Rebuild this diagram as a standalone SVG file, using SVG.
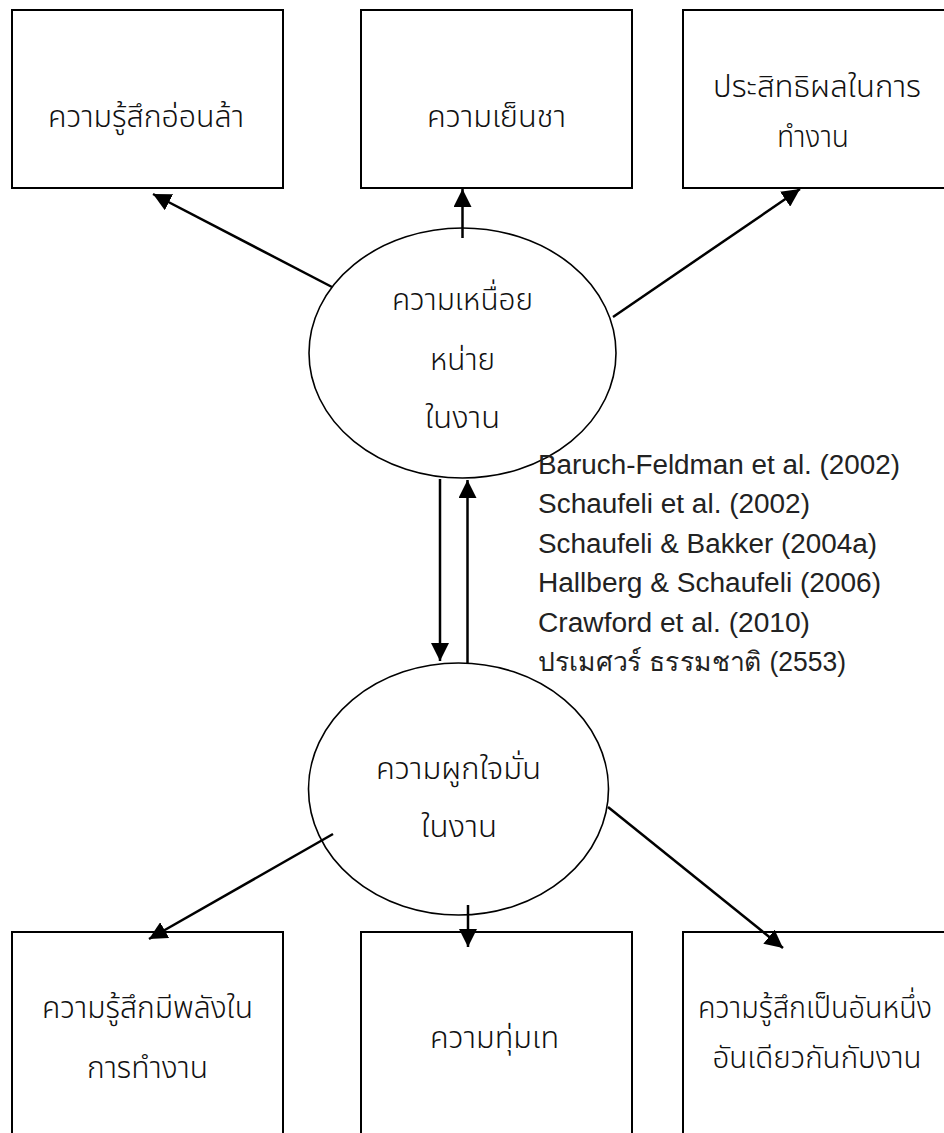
<svg xmlns="http://www.w3.org/2000/svg" width="944" height="1133" viewBox="0 0 944 1133">
<style>
.box{fill:#fff;stroke:#000;stroke-width:2}
.ell{fill:#fff;stroke:#000;stroke-width:1.6}
.con{stroke:#000;stroke-width:2.5;fill:none}
.th{font-family:"Noto Sans Thai","Noto Sans","DejaVu Sans",sans-serif;font-size:31px;font-weight:300;fill:#111}
.ref{font-family:"Liberation Sans",Arial,sans-serif;font-size:27px;fill:#222}
</style>
<defs>
<marker id="ah" markerUnits="userSpaceOnUse" markerWidth="18" markerHeight="18" viewBox="0 0 16 16" refX="16" refY="8" orient="auto">
<path d="M0,0 L16,8 L0,16 Z" fill="#000"/>
</marker>
</defs>
<rect width="944" height="1133" fill="#fff"/>
<g id="box-exhaustion">
<rect class="box" x="12" y="10" width="271" height="178"/>
<text class="th" x="146" y="127" text-anchor="middle" textLength="196" lengthAdjust="spacingAndGlyphs">ความรู้สึกอ่อนล้า</text>
</g>
<g id="box-cynicism">
<rect class="box" x="361" y="10" width="271" height="178"/>
<text class="th" x="496.5" y="127" text-anchor="middle" textLength="139" lengthAdjust="spacingAndGlyphs">ความเย็นชา</text>
</g>
<g id="box-efficacy">
<rect class="box" x="683" y="10" width="262" height="178"/>
<text class="th" x="817" y="97" text-anchor="middle" textLength="208" lengthAdjust="spacingAndGlyphs">ประสิทธิผลในการ</text>
<text class="th" x="813" y="147" text-anchor="middle" textLength="72" lengthAdjust="spacingAndGlyphs">ทำงาน</text>
</g>
<g id="ellipse-burnout">
<ellipse class="ell" cx="462.5" cy="353" rx="153.5" ry="125"/>
<text class="th" x="462.5" y="310" text-anchor="middle" textLength="141" lengthAdjust="spacingAndGlyphs">ความเหนื่อย</text>
<text class="th" x="462.5" y="370" text-anchor="middle" textLength="65" lengthAdjust="spacingAndGlyphs">หน่าย</text>
<text class="th" x="462.5" y="428" text-anchor="middle" textLength="75" lengthAdjust="spacingAndGlyphs">ในงาน</text>
</g>
<g id="references">
<text class="ref" x="538" y="474" textLength="362" lengthAdjust="spacingAndGlyphs">Baruch-Feldman et al. (2002)</text>
<text class="ref" x="538" y="513" textLength="272" lengthAdjust="spacingAndGlyphs">Schaufeli et al. (2002)</text>
<text class="ref" x="538" y="553" textLength="339" lengthAdjust="spacingAndGlyphs">Schaufeli &amp; Bakker (2004a)</text>
<text class="ref" x="538" y="592" textLength="343" lengthAdjust="spacingAndGlyphs">Hallberg &amp; Schaufeli (2006)</text>
<text class="ref" x="538" y="632" textLength="272" lengthAdjust="spacingAndGlyphs">Crawford et al. (2010)</text>
<text class="ref" x="538" y="671" textLength="308" lengthAdjust="spacingAndGlyphs">ปรเมศวร์ ธรรมชาติ (2553)</text>
</g>
<g id="ellipse-engagement">
<ellipse class="ell" cx="458.5" cy="789" rx="150" ry="126"/>
<text class="th" x="458.5" y="779" text-anchor="middle" textLength="165" lengthAdjust="spacingAndGlyphs">ความผูกใจมั่น</text>
<text class="th" x="459" y="837" text-anchor="middle" textLength="76" lengthAdjust="spacingAndGlyphs">ในงาน</text>
</g>
<g id="box-vigor">
<rect class="box" x="12" y="932" width="271" height="220"/>
<text class="th" x="147.5" y="1018" text-anchor="middle" textLength="211" lengthAdjust="spacingAndGlyphs">ความรู้สึกมีพลังใน</text>
<text class="th" x="147.5" y="1078" text-anchor="middle" textLength="121" lengthAdjust="spacingAndGlyphs">การทำงาน</text>
</g>
<g id="box-dedication">
<rect class="box" x="361" y="932" width="271" height="220"/>
<text class="th" x="494.5" y="1048" text-anchor="middle" textLength="129" lengthAdjust="spacingAndGlyphs">ความทุ่มเท</text>
</g>
<g id="box-absorption">
<rect class="box" x="683" y="932" width="262" height="220"/>
<text class="th" x="815" y="1018" text-anchor="middle" font-size="26" textLength="234" lengthAdjust="spacingAndGlyphs">ความรู้สึกเป็นอันหนึ่ง</text>
<text class="th" x="817" y="1068" text-anchor="middle" textLength="209" lengthAdjust="spacingAndGlyphs">อันเดียวกันกับงาน</text>
</g>
<g id="connectors">
<line class="con" x1="332" y1="287" x2="153" y2="194" marker-end="url(#ah)"/>
<line class="con" x1="462.5" y1="238" x2="462.5" y2="189" marker-end="url(#ah)"/>
<line class="con" x1="613" y1="317" x2="800" y2="189" marker-end="url(#ah)"/>
<line class="con" x1="440" y1="479" x2="440" y2="661" marker-end="url(#ah)"/>
<line class="con" x1="467.5" y1="663" x2="467.5" y2="480" marker-end="url(#ah)"/>
<line class="con" x1="333" y1="834" x2="149" y2="939" marker-end="url(#ah)"/>
<line class="con" x1="468" y1="905" x2="468" y2="947" marker-end="url(#ah)"/>
<line class="con" x1="608" y1="807" x2="783" y2="948" marker-end="url(#ah)"/>
</g>
</svg>
